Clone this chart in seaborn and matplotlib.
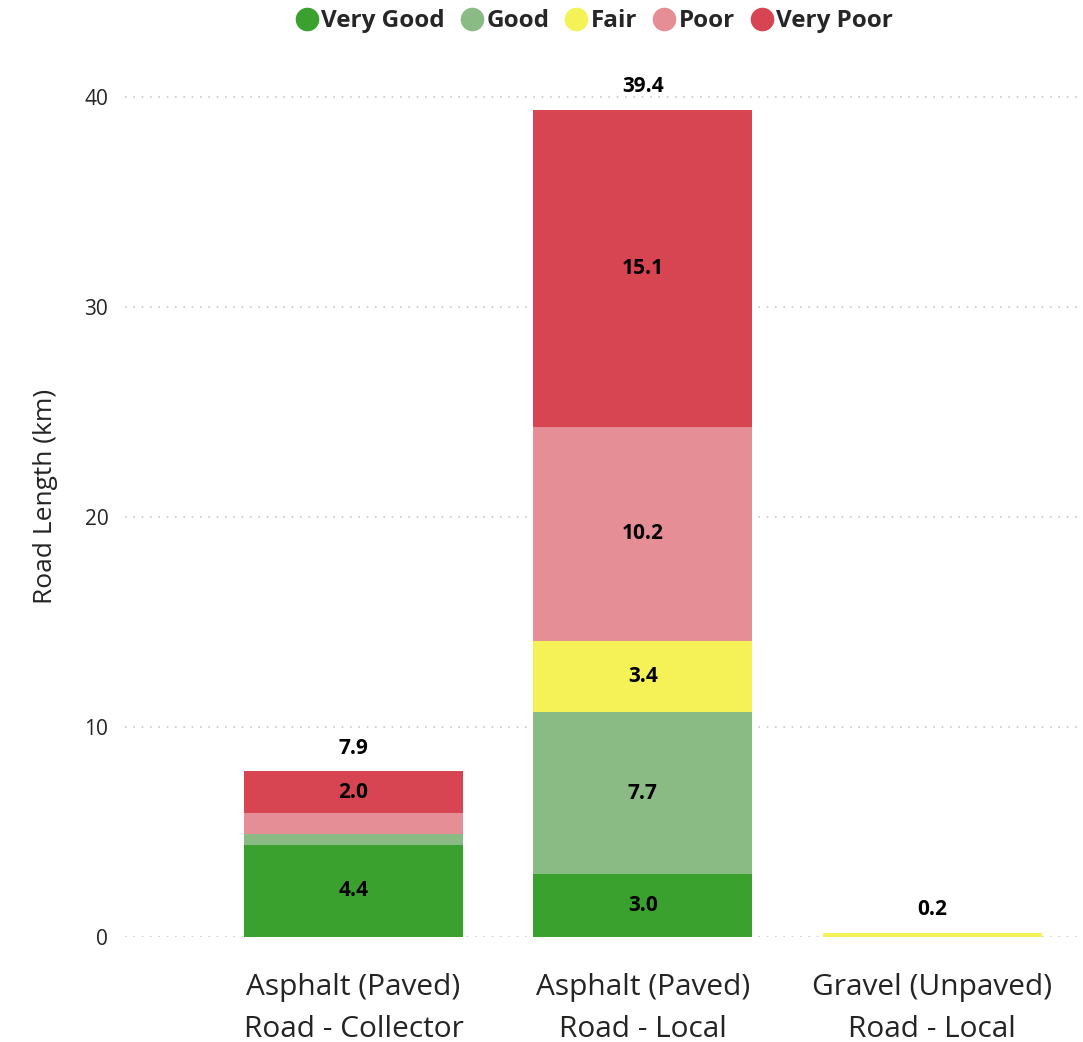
import numpy as np
import pandas as pd
import matplotlib
matplotlib.use("Agg")
import matplotlib.pyplot as plt
from matplotlib.lines import Line2D
import seaborn as sns

# Road length (km) by surface/class and condition rating
categories = ["Asphalt (Paved)\nRoad - Collector",
              "Asphalt (Paved)\nRoad - Local",
              "Gravel (Unpaved)\nRoad - Local"]
conditions = ["Very Good", "Good", "Fair", "Poor", "Very Poor"]
very_good = [4.4, 3.0, 0.0]
good = [0.5, 7.7, 0.0]
fair = [0.0, 3.4, 0.2]
poor = [1.0, 10.2, 0.0]
very_poor = [2.0, 15.1, 0.0]
colors = ["#3AA12E", "#8BBB85", "#F4F256", "#E68E96", "#D84552"]

sns.set_theme(style="white")
plt.rcParams["font.family"] = ["Open Sans", "DejaVu Sans"]

series = np.array([very_good, good, fair, poor, very_poor])
cumulative = np.cumsum(series, axis=0)
totals = cumulative[-1]

fig = plt.figure(figsize=(10.83, 10.42), dpi=100)
ax = fig.add_axes([0.1154, 0.1008, 0.8816, 0.8462])

# Stack by drawing cumulative heights from the top layer down
width = 0.757
for i in range(len(conditions) - 1, -1, -1):
    df = pd.DataFrame({"category": categories, "value": cumulative[i]})
    sns.barplot(data=df, x="category", y="value", color=colors[i],
                saturation=1, width=width, ax=ax, linewidth=0,
                errorbar=None)

# Segment labels
for i in range(len(conditions)):
    for j in range(len(categories)):
        seg = series[i, j]
        if seg >= 2.0:
            mid = cumulative[i, j] - seg / 2
            ax.text(j, mid, f"{seg:.1f}", ha="center", va="center",
                    fontsize=15, fontweight="bold", color="black")

# Totals above each stack
for j, t in enumerate(totals):
    ax.text(j, t + 0.6, f"{t:.1f}", ha="center", va="bottom",
            fontsize=15, fontweight="bold", color="black")

ax.set_xlim(-0.79, 2.51)
ax.set_ylim(0, 42)
ax.set_yticks([0, 10, 20, 30, 40])
ax.yaxis.grid(True, linestyle=(0, (1, 4)), color="#C8C8C8", linewidth=1.2)
ax.set_axisbelow(True)
for s in ax.spines.values():
    s.set_visible(False)
ax.tick_params(axis="y", labelsize=15, labelcolor="#252423", pad=12, length=0)
ax.tick_params(axis="x", labelsize=21.5, labelcolor="#252423", pad=26, length=0)
ax.set_xlabel("")
ax.set_ylabel("Road Length (km)", fontsize=19, color="#252423", labelpad=19)
for lbl in ax.get_xticklabels():
    lbl.set_linespacing(1.58)

handles = [Line2D([0], [0], marker="o", linestyle="", markersize=17,
                  markerfacecolor=c, markeredgewidth=0) for c in colors]
fig.legend(handles, conditions, loc="upper center", bbox_to_anchor=(0.545, 1.012),
           ncol=5, frameon=False, handletextpad=-0.2, columnspacing=0.3,
           handlelength=1.6, prop={"weight": "bold", "size": 17.5})

fig.savefig("out.png", dpi=100)
